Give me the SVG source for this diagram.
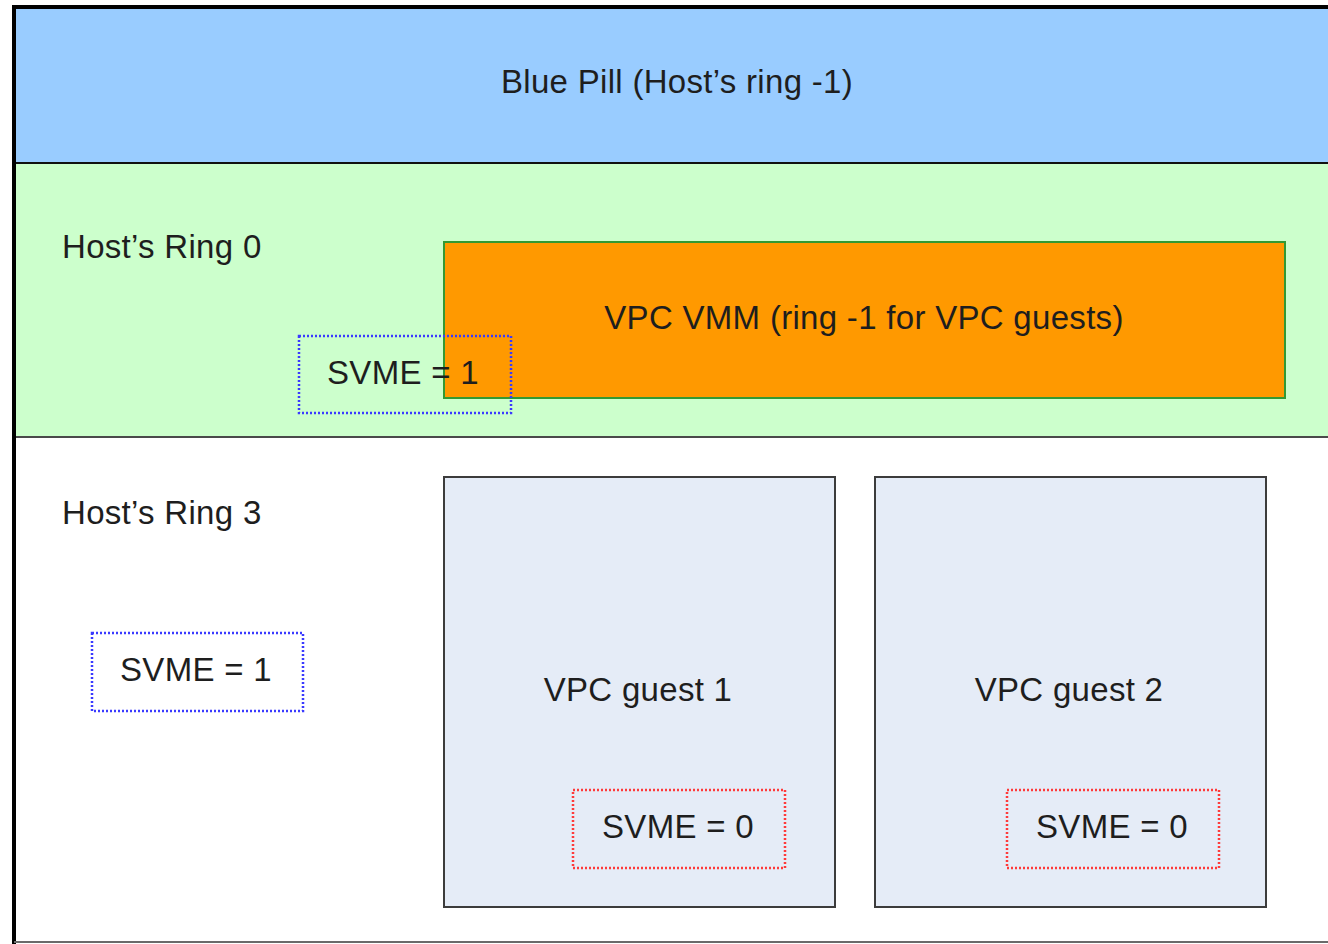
<svg xmlns="http://www.w3.org/2000/svg" width="1328" height="944" viewBox="0 0 1328 944">
<style>
  text { font-family: "Liberation Sans", Arial, sans-serif; font-size: 33px; letter-spacing: 0.3px; fill: #1e1e1e; }
  .c { text-anchor: middle; }
  .dotb { fill: none; stroke: #3a3aff; stroke-width: 2.5; stroke-dasharray: 2 2; }
  .dotr { fill: none; stroke: #ff3a3a; stroke-width: 2.5; stroke-dasharray: 2 2; }
  .guest { fill: #e5ecf7; stroke: #3c3c3c; stroke-width: 2; }
</style>
<rect x="0" y="0" width="1328" height="944" fill="#ffffff"/>
<g id="band-ring3">
  <rect x="14" y="437" width="1330" height="505" fill="#ffffff"/>
  <text x="62" y="524">Host’s Ring 3</text>
</g>
<g id="band-ring0">
  <rect x="14" y="163" width="1330" height="274" fill="#ccffcc"/>
  <line x1="14" y1="437" x2="1328" y2="437" stroke="#4a4a4a" stroke-width="2"/>
  <text x="62" y="258">Host’s Ring 0</text>
</g>
<g id="band-bluepill">
  <rect x="14" y="7" width="1330" height="156" fill="#99ccff"/>
  <line x1="14" y1="163" x2="1328" y2="163" stroke="#111" stroke-width="2"/>
  <text class="c" x="677" y="93">Blue Pill (Host’s ring -1)</text>
</g>
<g id="frame">
  <line x1="14" y1="7" x2="1328" y2="7" stroke="#000" stroke-width="4"/>
  <line x1="14" y1="5" x2="14" y2="944" stroke="#000" stroke-width="4"/>
  <line x1="14" y1="942" x2="1328" y2="942" stroke="#6a6a6a" stroke-width="2"/>
</g>
<g id="vmm">
  <rect x="444" y="242" width="841" height="156" fill="#ff9900" stroke="#339933" stroke-width="2"/>
  <text class="c" x="864" y="329">VPC VMM (ring -1 for VPC guests)</text>
</g>
<g id="svme-ring0">
  <rect class="dotb" x="299" y="336" width="212" height="77"/>
  <text class="c" x="403" y="384">SVME = 1</text>
</g>
<g id="svme-ring3">
  <rect class="dotb" x="92" y="633" width="211" height="78"/>
  <text class="c" x="196" y="681">SVME = 1</text>
</g>
<g id="guest1">
  <rect class="guest" x="444" y="477" width="391" height="430"/>
  <text class="c" x="638" y="701">VPC guest 1</text>
</g>
<g id="guest2">
  <rect class="guest" x="875" y="477" width="391" height="430"/>
  <text class="c" x="1069" y="701">VPC guest 2</text>
</g>
<g id="svme-guest1">
  <rect class="dotr" x="573" y="790" width="212" height="78"/>
  <text class="c" x="678" y="838">SVME = 0</text>
</g>
<g id="svme-guest2">
  <rect class="dotr" x="1007" y="790" width="212" height="78"/>
  <text class="c" x="1112" y="838">SVME = 0</text>
</g>
<g id="connectors"></g>
</svg>
